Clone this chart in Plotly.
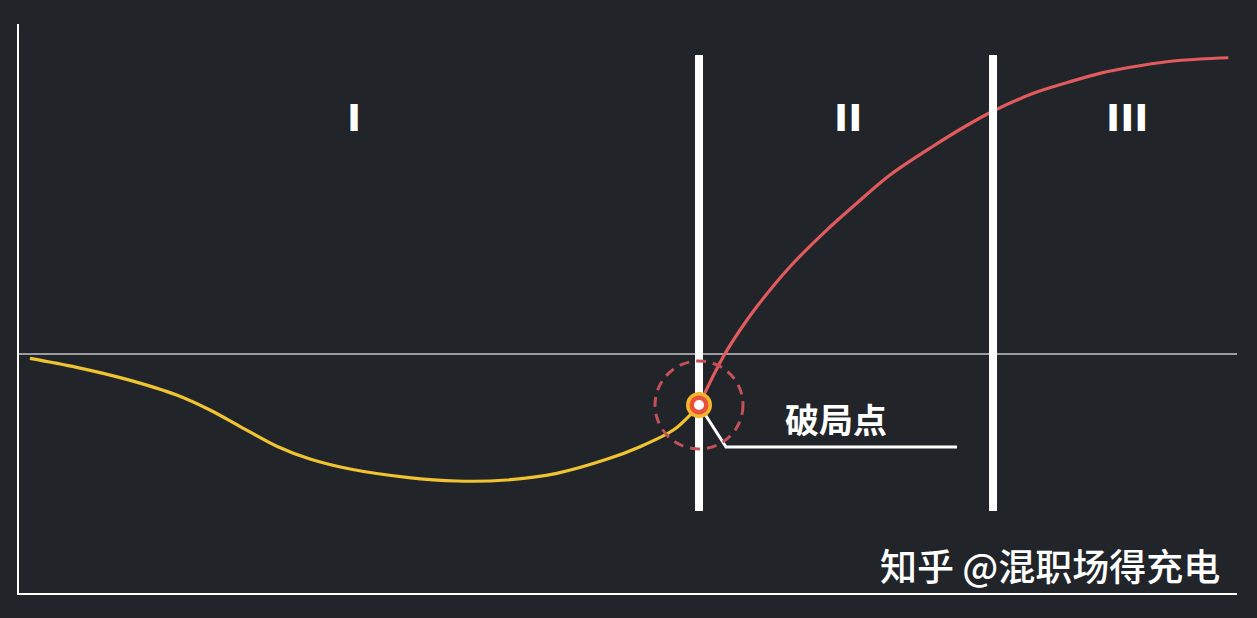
import plotly.graph_objects as go

# ---- data (abstract units: x 0..100, y -42..58, baseline at 0) ----
phase_labels = ["I", "II", "III"]
phase_label_x = [27.5, 68.06, 90.97]
phase_label_y = [41.5, 41.5, 41.5]

boundary_x = [55.83, 79.97]
boundary_top = 52.55
boundary_bottom = -27.6

yellow_x = [0.90, 4.74, 8.84, 12.95, 15.68, 18.42, 21.16, 23.89, 27.18, 31.83, 35.94,
            40.04, 44.15, 48.25, 50.99, 53.72, 55.09, 55.83]
yellow_y = [-0.76, -2.34, -4.45, -7.2, -9.84, -13.06, -16.2, -18.45, -20.21, -21.67, -22.32,
            -22.14, -20.97, -18.51, -16.29, -13.36, -10.72, -8.96]

red_x = [55.83, 57.82, 59.20, 60.57, 63.30, 66.03, 68.78, 71.51, 75.07, 77.81, 80.07,
         83.28, 86.02, 88.75, 91.49, 94.23, 96.96, 99.29]
red_y = [-8.96, -0.47, 4.22, 8.31, 15.34, 21.21, 26.49, 31.46, 36.56, 40.16, 42.79,
         45.82, 47.68, 49.33, 50.49, 51.37, 51.85, 52.07]

break_x = [55.83]
break_y = [-8.96]
break_label = "破局点"
pointer_x = [55.83, 58.05, 77.01]
pointer_y = [-8.96, -16.34, -16.34]
label_pos = [67.08, -11.25]

circle_rx = 3.61
circle_ry = 7.73

watermark = "知乎 @混职场得充电"

BG = "#212428"

fig = go.Figure()

# baseline
fig.add_trace(go.Scatter(x=[0, 100], y=[0, 0], mode="lines",
                         line=dict(color="#9b9d9f", width=2), hoverinfo="skip"))

# curves
fig.add_trace(go.Scatter(x=yellow_x, y=yellow_y, mode="lines", line_shape="spline",
                         line=dict(color="#f0c431", width=3.2, smoothing=1), hoverinfo="skip"))
fig.add_trace(go.Scatter(x=red_x, y=red_y, mode="lines", line_shape="spline",
                         line=dict(color="#e05a5e", width=3.2, smoothing=1), hoverinfo="skip"))

# phase boundaries
for bx in boundary_x:
    fig.add_trace(go.Scatter(x=[bx, bx], y=[boundary_bottom, boundary_top], mode="lines",
                             line=dict(color="#ffffff", width=8), hoverinfo="skip"))

# pointer line
fig.add_trace(go.Scatter(x=pointer_x, y=pointer_y, mode="lines",
                         line=dict(color="#ffffff", width=3), hoverinfo="skip"))

# breakpoint marker (layered)
fig.add_trace(go.Scatter(x=break_x, y=break_y, mode="markers",
                         marker=dict(size=26, color="#f5b52c"), hoverinfo="skip"))
fig.add_trace(go.Scatter(x=break_x, y=break_y, mode="markers",
                         marker=dict(size=19, color="#e8523c"), hoverinfo="skip"))
fig.add_trace(go.Scatter(x=break_x, y=break_y, mode="markers",
                         marker=dict(size=10, color="#ffffff"), hoverinfo="skip"))

# dashed circle
fig.add_shape(type="circle", xref="x", yref="y",
              x0=break_x[0] - circle_rx, x1=break_x[0] + circle_rx,
              y0=break_y[0] - circle_ry, y1=break_y[0] + circle_ry,
              line=dict(color="#c4505a", width=3, dash="10px,7px"))

# phase labels
for t, lx, ly in zip(phase_labels, phase_label_x, phase_label_y):
    fig.add_annotation(x=lx, y=ly, text=t, showarrow=False,
                       font=dict(family="DejaVu Sans", size=38, color="#ffffff", weight="bold"),
                       xanchor="center", yanchor="middle")

fig.add_annotation(x=label_pos[0], y=label_pos[1], text=break_label, showarrow=False,
                   font=dict(family="Noto Sans CJK SC", size=34, color="#ffffff", weight="bold"),
                   xanchor="center", yanchor="middle")

fig.add_annotation(x=98.77, y=-37.08, text=watermark, showarrow=False,
                   font=dict(family="Noto Sans CJK SC", size=37, color="#ffffff", weight=500),
                   xanchor="right", yanchor="middle")

fig.update_layout(
    width=1257, height=618,
    paper_bgcolor=BG, plot_bgcolor=BG,
    margin=dict(l=19, r=20, t=24, b=25),
    showlegend=False,
    xaxis=dict(range=[0, 100], showgrid=False, zeroline=False, showticklabels=False,
               ticks="", showline=True, linecolor="#ffffff", linewidth=2, fixedrange=True),
    yaxis=dict(range=[-42, 58], showgrid=False, zeroline=False, showticklabels=False,
               ticks="", showline=True, linecolor="#ffffff", linewidth=2, fixedrange=True),
)

fig.write_html("out.html", config={"displayModeBar": False},
               post_script="document.body.style.margin='0';document.body.style.background='" + BG + "';")
